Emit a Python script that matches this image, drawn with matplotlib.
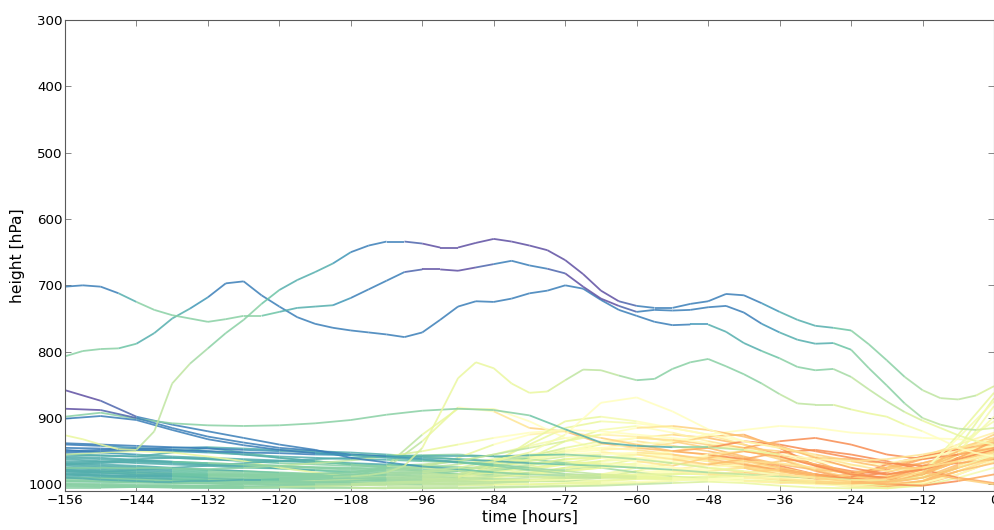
import numpy as np
import matplotlib
matplotlib.use("Agg")
import matplotlib.pyplot as plt
from matplotlib.collections import LineCollection
from matplotlib.colors import Normalize

# pressure along each back-trajectory [hPa]; 3-hourly or 6-hourly from -156 h to 0 h
# colour strings: one tracer value (0-9) per 12-hour block plus the final point
tr_u1 = [926, 932, 940, 947,  948, 920, 848, 818,  795, 772, 752, 728,  707, 692, 680, 667,
         650, 640, 634, 634,  637, 643, 643, 636,  630, 634, 640, 647,  662, 683, 708, 724,
         731, 734, 734, 728,  724, 713, 715, 727,  740, 752, 761, 764,  768, 789, 813, 838,
         858, 870, 872, 866,  852]
col_u1 = "54321000112345"
tr_u2 = [702, 700, 702, 712,  725, 737, 745, 750,  755, 751, 746, 746,  740, 734, 732, 730,
         719, 706, 693, 680,  676, 676, 678, 673,  668, 663, 670, 675,  682, 702, 720, 731,
         740, 737, 738, 737,  733, 731, 741, 758,  771, 782, 788, 787,  797, 825, 851, 878,
         900, 910, 916, 918,  915]
col_u2 = "13321010112345"
tr_u3 = [807, 799, 796, 795,  788, 772, 750, 735,  718, 697, 694, 715,  732, 748, 758, 764,
         768, 771, 774, 778,  771, 752, 732, 724,  725, 720, 712, 708,  700, 705, 722, 737,
         746, 755, 760, 759,  759, 770, 787, 799,  810, 823, 828, 826,  838, 857, 875, 891,
         904, 915, 926, 935,  940]
col_u3 = "32111111123456"
tr_u5 = [990, 991, 993, 994,  995, 996, 996, 995,  995, 994, 993, 993,  992, 991, 990, 989,
         988, 986, 982, 972,  945, 893, 840, 816,  825, 848, 862, 860,  843, 827, 828, 836,
         843, 841, 826, 816,  811, 822, 834, 848,  864, 878, 880, 880,  887, 893, 898, 910,
         920, 932, 945, 953,  958]
col_u5 = "22234554334566"

tr_u4 = [858, 874,  898, 910,  920, 930,  940, 948,  960, 967,  973, 977,  982, 985,  987, 990,
         991, 993,  992, 990,  992, 995,  998, 996,  985, 965,  950]
col_u4 = "01111234567887"
tr_u6 = [985, 988,  990, 992,  993, 992,  990, 988,  985, 982,  980, 975,  965, 952,  925, 877,
         869, 890,  917, 935,  945, 955,  965, 975,  975, 965,  955]
col_u6 = "22333456667876"
tr_u7 = [898, 892,  901, 908,  911, 912,  911, 908,  903, 895,  889, 886,  888, 896,  917, 937,
         942, 944,  944, 948,  955, 962,  965, 962,  955, 945,  935]
col_u7 = "33333332246777"
tr_u8 = [886, 888,  900, 915,  928, 937,  945, 949,  955, 958,  962, 966,  970, 975,  980, 985,
         988, 990,  993, 995,  997, 998,  999, 997,  990, 975,  960]
col_u8 = "01111234567887"
tr_u9 = [901, 897,  903, 918,  932, 941,  948, 953,  956, 960,  963, 967,  972, 978,  984, 988,
         990, 992,  994, 990,  985, 990,  996, 1000,  995, 980,  968]
col_u9 = "11112234567888"

tr_b01 = [962, 965,  968, 970,  972, 975,  976, 978,  980, 982,  983, 985,  980, 972,  962, 958,
          960, 968,  975, 982,  988, 990,  985, 975,  960, 945,  930]
col_b01 = "22233345678987"
tr_b02 = [970, 968,  966, 968,  970, 972,  974, 975,  976, 978,  980, 978,  970, 960,  950, 945,
          948, 955,  965, 975,  985, 992,  995, 990,  975, 955,  935]
col_b02 = "22233456789987"
tr_b03 = [975, 978,  980, 982,  984, 985,  986, 987,  988, 990,  992, 993,  990, 985,  975, 965,
          955, 950,  955, 968,  980, 990,  998, 995,  985, 965,  948]
col_b03 = "22333455678886"
tr_b04 = [985, 987,  988, 990,  991, 992,  992, 993,  994, 995,  996, 996,  995, 993,  990, 985,
          975, 965,  958, 962,  975, 990,  1000, 1003,  995, 975,  955]
col_b04 = "22333445677886"
tr_b05 = [995, 996,  997, 998,  999, 1000,  1000, 1001,  1001, 1002,  1002, 1002,  1001, 1000,
          998, 996,  992, 985,  978, 975,  982, 995,  1003, 1005,  1000, 985,  965]
col_b05 = "23334455667787"
tr_b06 = [1002, 1003,  1004, 1004,  1005, 1005,  1005, 1006,  1006, 1006,  1006, 1005,  1004, 1003,
          1002, 1000,  998, 995,  990, 985,  990, 998,  1004, 1006,  1000, 980,  960]
col_b06 = "33334445556776"
tr_b07 = [945, 946,  948, 950,  952, 955,  958, 960,  962, 963,  965, 967,  968, 960,  950, 940,
          935, 942,  950, 960,  972, 985,  990, 982,  968, 955,  942]
col_b07 = "11222345789987"
tr_b08 = [955, 957,  958, 960,  962, 964,  965, 967,  969, 972,  975, 978,  974, 965,  950, 938,
          930, 925,  930, 940,  955, 970,  980, 985,  975, 960,  945]
col_b08 = "22223456789987"
tr_b09 = [965, 966,  962, 960,  962, 965,  968, 970,  972, 972,  970, 965,  955, 942,  930, 925,
          928, 935,  945, 958,  970, 978,  982, 975,  958, 940,  922]
col_b09 = "22233456788876"
tr_b10 = [985, 986,  988, 988,  987, 986,  985, 984,  982, 975,  935, 884,  890, 915,  920, 938,
          945, 950,  955, 962,  975, 985,  990, 988,  972, 955,  940]
col_b10 = "22333578899987"
tr_b11 = [990, 992,  993, 994,  995, 995,  994, 993,  990, 972,  925, 886,  886, 905,  930, 950,
          960, 968,  970, 975,  980, 985,  990, 988,  975, 960,  945]
col_b11 = "33333566677776"
tr_b12 = [995, 996,  997, 998,  998, 998,  997, 996,  995, 993,  990, 985,  965, 940,  915, 905,
          908, 915,  925, 940,  960, 978,  990, 995,  985, 965,  948]
col_b12 = "33334455677887"
tr_b13 = [1000, 1001,  1002, 1002,  1003, 1003,  1002, 1001,  1000, 998,  995, 988,  978, 960,
          935, 918,  912, 922,  935, 945,  950, 965,  985, 995,  990, 975,  958]
col_b13 = "33334555678887"
tr_b14 = [975, 976,  978, 980,  982, 984,  986, 988,  990, 992,  994, 995,  996, 996,  995, 994,
          992, 990,  988, 990,  993, 996,  998, 996,  990, 945,  870]
col_b14 = "22333445555555"
tr_b15 = [990, 990,  991, 992,  993, 994,  995, 996,  997, 998,  999, 1000,  1000, 1000,  999, 998,
          996, 994,  992, 994,  997, 1000,  1002, 1000,  995, 955,  882]
col_b15 = "33334455666665"
tr_b16 = [980, 982,  985, 987,  990, 992,  994, 996,  998, 999,  1000, 1000,  998, 995,  990, 985,
          980, 982,  985, 990,  996, 1000,  1000, 998,  988, 950,  898]
col_b16 = "22233445666765"
tr_b17 = [970, 972,  974, 976,  978, 980,  982, 984,  985, 986,  985, 980,  970, 960,  952, 948,
          945, 938,  928, 925,  945, 972,  985, 978,  962, 950,  940]
col_b17 = "22333456789987"
tr_b18 = [960, 962,  964, 966,  968, 970,  972, 974,  975, 976,  975, 970,  962, 955,  948, 945,
          940, 935,  925, 918,  912, 915,  922, 925,  930, 932,  935]
col_b18 = "22333456666666"
tr_b19 = [985, 986,  987, 988,  989, 990,  991, 992,  993, 994,  993, 990,  985, 978,  970, 965,
          962, 960,  965, 975,  985, 990,  989, 970,  958, 947,  938]
col_b19 = "22333455678998"
tr_b20 = [958, 960,  963, 966,  970, 973,  976, 979,  982, 985,  988, 990,  992, 994,  995, 990,
          980, 968,  955, 950,  958, 970,  982, 992,  985, 962,  945]
col_b20 = "22223344578986"
tr_b21 = [968, 970,  972, 975,  978, 980,  983, 985,  987, 988,  986, 984,  980, 975,  968, 960,
          955, 958,  965, 972,  980, 988,  995, 998,  990, 970,  952]
col_b21 = "22233445678887"
tr_b22 = [948, 952,  955, 958,  960, 962,  964, 966,  968, 970,  972, 974,  976, 978,  978, 972,
          962, 950,  942, 948,  962, 980,  992, 995,  978, 955,  932]
col_b22 = "12222334678987"
tr_b23 = [978, 980,  982, 984,  986, 988,  990, 990,  988, 985,  982, 978,  972, 968,  965, 970,
          975, 980,  985, 988,  993, 997,  1000, 996,  982, 962,  945]
col_b23 = "23333455678886"
tr_b24 = [992, 993,  994, 995,  996, 997,  998, 999,  1000, 1000,  999, 998,  996, 994,  992, 988,
          985, 980,  975, 970,  975, 985,  998, 1003,  995, 972,  950]
col_b24 = "33333445667886"
tr_b25 = [955, 956,  958, 952,  945, 952,  960, 965,  970, 975,  978, 980,  982, 984,  985, 986,
          988, 990,  992, 995,  998, 995,  985, 975,  968, 955,  945]
col_b25 = "22233344567886"
tr_b26 = [955, 952,  950, 952,  958, 965,  975, 982,  988, 990,  992, 993,  994, 994,  993, 990,
          985, 978,  970, 965,  968, 975,  985, 990,  980, 960,  942]
col_b26 = "45555556677886"
tr_b27 = [1005, 1005,  1004, 1003,  1002, 1000,  998, 995,  993, 990,  988, 985,  984, 982,  980, 975,
          968, 962,  960, 965,  975, 988,  998, 1002,  996, 980,  962]
col_b27 = "33344455678886"
tr_b28 = [998, 999,  1000, 1001,  1002, 1003,  1004, 1004,  1005, 1006,  1006, 1006,  1005, 1004,
          1003, 1002,  1000, 998,  996, 998,  1002, 1005,  1006, 1006,  1002, 990,  975]
col_b28 = "33334444455556"
tr_b29 = [985, 982,  978, 975,  972, 968,  965, 962,  960, 958,  956, 955,  958, 962,  968, 975,
          982, 988,  992, 994,  996, 998,  1000, 1001,  998, 985,  965]
col_b29 = "22222333455566"
tr_b30 = [940, 942,  945, 948,  950, 955,  960, 965,  970, 975,  980, 984,  986, 988,  990, 990,
          988, 985,  982, 985,  990, 995,  1000, 998,  980, 940,  905]
col_b30 = "12223344556665"
tr_b31 = [950, 948,  946, 945,  944, 946,  948, 950,  952, 955,  958, 962,  965, 958,  945, 935,
          930, 933,  940, 945,  935, 930,  940, 955,  962, 955,  945]
col_b31 = "11222345789998"
tr_b32 = [972, 974,  976, 978,  980, 982,  984, 986,  988, 990,  988, 985,  975, 962,  955, 952,
          955, 962,  970, 962,  952, 948,  955, 965,  978, 990,  998]
col_b32 = "22333456789998"
tr_b33 = [988, 990,  992, 993,  994, 995,  996, 997,  998, 996,  992, 988,  982, 975,  970, 968,
          970, 975,  980, 975,  965, 960,  962, 970,  982, 992,  1000]
col_b33 = "23333455678887"
tr_b34 = [975, 975,  976, 976,  977, 975,  972, 968,  964, 958,  950, 940,  930, 922,  918, 920,
          925, 930,  938, 948,  958, 965,  972, 968,  960, 950,  942]
col_b34 = "33344566666666"
tr_b35 = [980, 982,  984, 985,  986, 987,  988, 988,  987, 985,  982, 978,  972, 965,  958, 955,
          952, 955,  962, 970,  978, 985,  992, 995,  985, 960,  935]
col_b35 = "23333445789998"
tr_b36 = [990, 991,  992, 993,  994, 995,  996, 996,  995, 993,  990, 985,  978, 970,  962, 960,
          965, 972,  960, 950,  958, 972,  985, 990,  975, 950,  925]
col_b36 = "33333445789987"
tr_b37 = [1000, 1001,  1002, 1003,  1004, 1004,  1003, 1002,  1000, 998,  996, 994,  992, 990,
          988, 986,  985, 984,  985, 988,  992, 995,  998, 1000,  985, 925,  862]
col_b37 = "33334445555555"
tr_b38 = [995, 995,  996, 997,  998, 999,  1000, 1000,  999, 997,  995, 992,  988, 985,  980, 975,
          972, 975,  980, 986,  990, 994,  996, 998,  980, 930,  875]
col_b38 = "33334455666665"
tr_b39 = [968, 966,  965, 966,  968, 970,  972, 975,  978, 980,  975, 960,  940, 925,  920, 930,
          940, 950,  945, 935,  940, 950,  960, 968,  972, 968,  962]
col_b39 = "22333467899998"
tr_b40 = [982, 983,  985, 986,  987, 988,  989, 990,  991, 992,  993, 992,  988, 982,  975, 972,
          975, 980,  985, 982,  978, 985,  995, 1000,  1002, 995,  985]
col_b40 = "22333445678998"
tr_b41 = [1003, 1004,  1004, 1005,  1005, 1005,  1004, 1003,  1002, 1000,  998, 990,  970, 935,
          905, 898,  905, 915,  925, 935,  945, 958,  970, 980,  975, 962,  950]
col_b41 = "33344455667776"
tr_b42 = [938, 940,  942, 944,  946, 948,  950, 952,  955, 958,  960, 962,  965, 968,  970, 972,
          975, 978,  982, 985,  988, 990,  993, 995,  990, 975,  955]
col_b42 = "11122223344556"
tr_b43 = [952, 950,  948, 948,  950, 952,  953, 955,  956, 957,  958, 958,  958, 956,  955, 958,
          962, 968,  975, 980,  985, 990,  995, 992,  982, 965,  948]
col_b43 = "11112223456787"
tr_b44 = [978, 980,  982, 984,  985, 986,  985, 984,  982, 978,  972, 965,  955, 945,  935, 925,
          915, 912,  918, 928,  942, 960,  975, 985,  978, 962,  948]
col_b44 = "22333445788999"

trajectories = [
    (tr_b01, col_b01), (tr_b02, col_b02), (tr_b03, col_b03), (tr_b04, col_b04),
    (tr_b05, col_b05), (tr_b06, col_b06), (tr_b07, col_b07), (tr_b08, col_b08),
    (tr_b09, col_b09), (tr_b10, col_b10), (tr_b11, col_b11), (tr_b12, col_b12),
    (tr_b13, col_b13), (tr_b14, col_b14), (tr_b15, col_b15), (tr_b16, col_b16),
    (tr_b17, col_b17), (tr_b18, col_b18), (tr_b19, col_b19), (tr_b20, col_b20),
    (tr_b21, col_b21), (tr_b22, col_b22), (tr_b23, col_b23), (tr_b24, col_b24),
    (tr_b25, col_b25), (tr_b26, col_b26), (tr_b27, col_b27), (tr_b28, col_b28),
    (tr_b29, col_b29), (tr_b30, col_b30), (tr_b31, col_b31), (tr_b32, col_b32),
    (tr_b33, col_b33), (tr_b34, col_b34), (tr_b35, col_b35), (tr_b36, col_b36),
    (tr_b37, col_b37), (tr_b38, col_b38), (tr_b39, col_b39), (tr_b40, col_b40),
    (tr_b41, col_b41), (tr_b42, col_b42), (tr_b43, col_b43), (tr_b44, col_b44),
    (tr_u4, col_u4), (tr_u6, col_u6), (tr_u7, col_u7), (tr_u8, col_u8), (tr_u9, col_u9),
    (tr_u5, col_u5), (tr_u3, col_u3), (tr_u2, col_u2), (tr_u1, col_u1),
]

xticks = np.arange(-156, 1, 12)
yticks = np.arange(300, 1001, 100)

plt.rcParams["font.family"] = "DejaVu Sans"

fig = plt.figure(figsize=(9.95, 5.3), dpi=100, facecolor="white")
ax = fig.add_axes([0.0653, 0.0736, 0.9337, 0.8887])

cmap = plt.get_cmap("Spectral_r")
norm = Normalize(0, 12)

for pres, col in trajectories:
    pres = np.array(pres, dtype=float)
    n = len(pres)
    hours = np.linspace(-156, 0, n)
    step = (n - 1) // 13
    q = np.array([int(c) for c in col], dtype=float)
    qpts = np.append(np.repeat(q[:13], step), q[13])
    # each segment takes the mean tracer value of its two end points
    qseg = 0.5 * (qpts[:-1] + qpts[1:])
    pts = np.column_stack([hours, pres]).reshape(-1, 1, 2)
    segs = np.concatenate([pts[:-1], pts[1:]], axis=1)
    lc = LineCollection(segs, colors=cmap(norm(qseg)), linewidths=1.3,
                        alpha=0.85, capstyle="butt")
    ax.add_collection(lc)

ax.set_xlim(-156, 0)
ax.set_ylim(1010, 300)
ax.set_xticks(xticks)
ax.set_yticks(yticks)
ax.set_xlabel("time [hours]", fontsize=11.2, labelpad=2)
ax.set_ylabel("height [hPa]", fontsize=11.2, labelpad=3)

for s in ax.spines.values():
    s.set_color("0.35")
    s.set_linewidth(0.8)
ax.tick_params(direction="in", top=True, right=True, length=4, width=0.6,
               color="0.45", labelcolor="black", labelsize=9.6)
ax.tick_params(axis="x", pad=2.5)
ax.tick_params(axis="y", pad=1.5)

fig.savefig("out.png", dpi=100, facecolor="white")
